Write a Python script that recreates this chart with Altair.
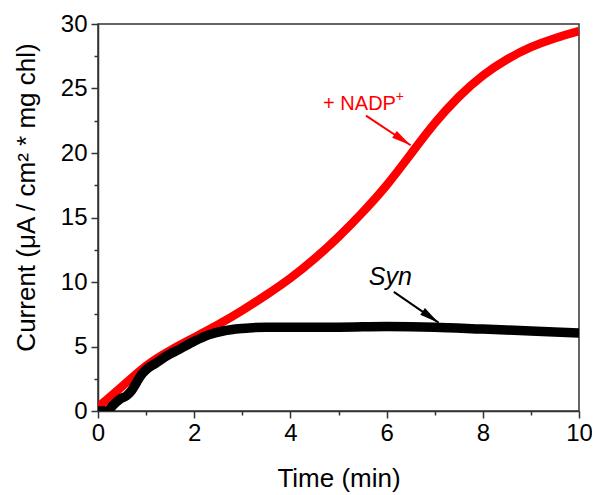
import altair as alt
import pandas as pd

# ---- data ----
nadp_t = [0.0, 0.5, 1.0, 1.5, 2.0, 2.5, 3.0, 3.5, 4.0, 4.5, 5.0, 5.5, 6.0, 6.5, 7.0, 7.5, 8.0, 8.5, 9.0, 9.5, 10.0]
nadp_i = [0.3, 1.9, 3.5, 4.7, 5.7, 6.7, 7.8, 9.0, 10.3, 11.8, 13.5, 15.4, 17.5, 19.9, 22.3, 24.35, 26.0, 27.25, 28.2, 28.9, 29.45]

syn_t = [0.0, 0.2, 0.3, 0.45, 0.6, 0.7, 0.8, 0.9, 1.0, 1.2, 1.4, 1.7, 2.0, 2.3, 2.6, 3.0, 3.5, 4.0, 5.0, 6.0, 7.0, 8.0, 9.0, 10.0]
syn_i = [0.0, 0.0, 0.4, 0.9, 1.2, 1.6, 2.2, 2.8, 3.2, 3.7, 4.2, 4.8, 5.4, 5.9, 6.2, 6.4, 6.5, 6.5, 6.5, 6.55, 6.5, 6.35, 6.2, 6.05]

x_major = [0, 2, 4, 6, 8, 10]
x_minor = [1, 3, 5, 7, 9]
y_major = [0, 5, 10, 15, 20, 25, 30]
y_minor = [2.5, 7.5, 12.5, 17.5, 22.5, 27.5]

# annotations (data coordinates)
nadp_label = {"t": 4.68, "i": 23.3, "text": "+ NADP"}
nadp_sup = {"t": 6.19, "i": 24.0, "text": "+"}
nadp_arrow_t = [5.57, 6.50]
nadp_arrow_i = [22.9, 20.6]
syn_label = {"t": 5.63, "i": 9.78, "text": "Syn"}
syn_arrow_t = [6.15, 7.08]
syn_arrow_i = [9.24, 6.85]

FONT = "Liberation Sans"
AX = "#333333"

red_df = pd.DataFrame({"t": nadp_t, "i": nadp_i})
blk_df = pd.DataFrame({"t": syn_t, "i": syn_i})

xs = alt.Scale(domain=[0, 10], nice=False, zero=False)
ys = alt.Scale(domain=[0, 30], nice=False, zero=False)

xaxis = alt.Axis(
    title="Time (min)", values=x_major, tickSize=7, grid=False, orient="bottom",
    labelFont=FONT, labelFontSize=24, labelColor="#000",
    titleFont=FONT, titleFontSize=26, titleFontWeight="normal", titleColor="#000",
    labelPadding=3, titlePadding=20,
    domainColor=AX, domainWidth=1.5, tickColor=AX, tickWidth=1.5,
    labelFlush=False, labelOverlap=False,
)
yaxis = alt.Axis(
    title="Current (μA / cm² * mg chl)", values=y_major, tickSize=7, grid=False, orient="left",
    labelFont=FONT, labelFontSize=24, labelColor="#000",
    titleFont=FONT, titleFontSize=26, titleFontWeight="normal", titleColor="#000",
    labelPadding=4, titleX=-64, titleY=173, titleBaseline="alphabetic", titleAngle=270,
    domainColor=AX, domainWidth=1.5, tickColor=AX, tickWidth=1.5,
    labelFlush=False, labelOverlap=False,
)
xaxis_minor = alt.Axis(
    title=None, values=x_minor, tickSize=4, labels=False, domain=False, grid=False,
    orient="bottom", tickColor=AX, tickWidth=1.5,
)
yaxis_minor = alt.Axis(
    title=None, values=y_minor, tickSize=4, labels=False, domain=False, grid=False,
    orient="left", tickColor=AX, tickWidth=1.5,
)

minor = alt.Chart(red_df).mark_point(opacity=0, size=1).encode(
    x=alt.X("t:Q", scale=xs, axis=xaxis_minor),
    y=alt.Y("i:Q", scale=ys, axis=yaxis_minor),
)

red_line = alt.Chart(red_df).mark_line(
    color="#ff0000", strokeWidth=8.5, interpolate="natural", clip=True, strokeCap="butt"
).encode(
    x=alt.X("t:Q", scale=xs, axis=xaxis),
    y=alt.Y("i:Q", scale=ys, axis=yaxis),
)
blk_line = alt.Chart(blk_df).mark_line(
    color="#000000", strokeWidth=9.5, interpolate="monotone", clip=True, strokeCap="butt"
).encode(x=alt.X("t:Q", scale=xs, axis=xaxis), y=alt.Y("i:Q", scale=ys, axis=yaxis))

def text_layer(d, color, size, style="normal"):
    return alt.Chart(pd.DataFrame([d])).mark_text(
        color=color, font=FONT, fontSize=size, fontStyle=style, align="left", baseline="alphabetic"
    ).encode(x=alt.X("t:Q", scale=xs, axis=xaxis), y=alt.Y("i:Q", scale=ys, axis=yaxis), text="text:N")

def arrow(ts, is_, color, angle):
    df = pd.DataFrame({"t": ts, "i": is_})
    enc = dict(x=alt.X("t:Q", scale=xs, axis=xaxis), y=alt.Y("i:Q", scale=ys, axis=yaxis))
    shaft = alt.Chart(df).mark_line(color=color, strokeWidth=2).encode(**enc)
    head = alt.Chart(df.iloc[[1]]).mark_point(
        shape="M -2 -0.42 L 0 0 L -2 0.42 Z", filled=True, size=380, angle=angle,
        color=color, opacity=1, strokeWidth=0
    ).encode(**enc)
    return alt.layer(shaft, head)

main = alt.layer(
    red_line,
    blk_line,
    text_layer(nadp_label, "#ff0000", 20),
    text_layer(nadp_sup, "#ff0000", 14),
    arrow(nadp_arrow_t, nadp_arrow_i, "#ff0000", 34),
    text_layer(syn_label, "#000000", 25, "italic"),
    arrow(syn_arrow_t, syn_arrow_i, "#000000", 35),
)

chart = alt.layer(minor, main).resolve_axis(x="independent", y="independent").properties(
    width=481, height=387,
    padding={"left": 90, "top": 16, "right": 13, "bottom": 84},
    autosize=alt.AutoSizeParams(type="none"),
    background="white",
).configure_view(stroke=AX, strokeWidth=1.5)

chart.save("out.html", embed_options={"renderer": "svg", "actions": False})
